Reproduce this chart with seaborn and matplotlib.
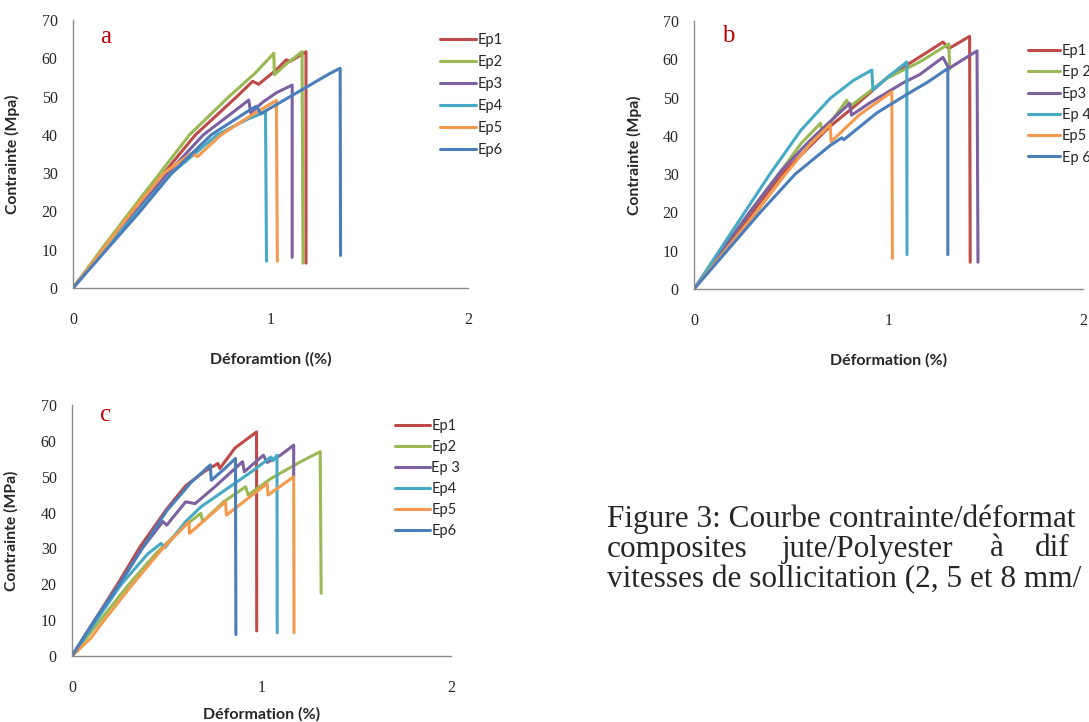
import pandas as pd
import seaborn as sns
import matplotlib
matplotlib.use("Agg")
from matplotlib import pyplot as plt

# ---- panel a (2 mm/min) ----
a_ep1_x = [0, 0.15, 0.30, 0.46, 0.62, 0.83, 0.91, 0.94, 1.03, 1.08, 1.10, 1.18, 1.18]
a_ep1_y = [0, 10, 20, 30, 40, 50, 54, 53.2, 57, 59.6, 59.2, 61.7, 6.5]
a_ep2_x = [0, 0.15, 0.29, 0.44, 0.59, 0.79, 0.92, 1.017, 1.02, 1.08, 1.16, 1.165]
a_ep2_y = [0, 10.5, 20, 30, 40, 50, 56, 61.3, 55.7, 58.5, 61.7, 6.5]
a_ep3_x = [0, 0.16, 0.32, 0.48, 0.66, 0.80, 0.89, 0.90, 0.96, 1.03, 1.11, 1.11]
a_ep3_y = [0, 10, 20, 30, 40, 45.5, 49.1, 45.7, 48.5, 51, 53, 8]
a_ep4_x = [0, 0.16, 0.33, 0.50, 0.73, 0.88, 0.975, 0.98]
a_ep4_y = [0, 10, 20, 30, 40, 44, 46, 7]
a_ep5_x = [0, 0.15, 0.30, 0.46, 0.60, 0.63, 0.75, 0.90, 1.03, 1.035]
a_ep5_y = [0, 10, 20, 30, 35.2, 34.3, 40, 45, 49, 7]
a_ep6_x = [0, 0.17, 0.34, 0.50, 0.70, 0.88, 0.93, 0.95, 1.05, 1.20, 1.30, 1.353, 1.355]
a_ep6_y = [0, 10, 20, 30, 40, 46, 47.5, 45.5, 48.5, 53, 56, 57.4, 8.5]
a_labels = ["Ep1", "Ep2", "Ep3", "Ep4", "Ep5", "Ep6"]

# ---- panel b (5 mm/min) ----
b_ep1_x = [0, 0.15, 0.30, 0.45, 0.62, 0.70, 0.82, 1.00, 1.16, 1.28, 1.31, 1.417, 1.42]
b_ep1_y = [0, 10, 20, 30, 38.5, 42.5, 47.5, 55.5, 60.6, 64.5, 62.8, 66, 7]
b_ep2_x = [0, 0.15, 0.30, 0.45, 0.55, 0.65, 0.66, 0.785, 0.80, 0.99, 1.16, 1.31, 1.315]
b_ep2_y = [0, 10.5, 21, 31, 38, 43.3, 40.7, 49.3, 47.6, 55, 59.3, 64, 57.5]
b_ep3_x = [0, 0.15, 0.30, 0.45, 0.60, 0.80, 0.81, 0.90, 1.08, 1.16, 1.28, 1.31, 1.455, 1.46]
b_ep3_y = [0, 10.5, 21, 31, 39, 48.5, 45.4, 48.5, 54, 56, 60.5, 57.6, 62.2, 7]
b_ep4_x = [0, 0.13, 0.26, 0.39, 0.55, 0.70, 0.82, 0.914, 0.92, 1.00, 1.094, 1.095]
b_ep4_y = [0, 10, 20, 30, 41.5, 49.8, 54.5, 57.2, 52, 55.5, 59.3, 9]
b_ep5_x = [0, 0.16, 0.32, 0.47, 0.60, 0.70, 0.705, 0.85, 1.017, 1.02]
b_ep5_y = [0, 10, 20, 30, 38, 43, 38.5, 45.5, 51.5, 8]
b_ep6_x = [0, 0.17, 0.34, 0.52, 0.70, 0.76, 0.77, 0.94, 1.09, 1.20, 1.305, 1.305]
b_ep6_y = [0, 10, 20, 30, 37.5, 39.5, 39, 46, 50.7, 54, 57.6, 9]
b_labels = ["Ep1", "Ep 2", "Ep3", "Ep 4", "Ep5", "Ep 6"]

# ---- panel c (8 mm/min) ----
c_ep1_x = [0, 0.12, 0.24, 0.36, 0.50, 0.60, 0.70, 0.77, 0.78, 0.86, 0.974, 0.975]
c_ep1_y = [0, 10, 20, 30.5, 41, 47.5, 51.5, 53.7, 52.3, 58, 62.5, 7]
c_ep2_x = [0, 0.15, 0.30, 0.45, 0.60, 0.68, 0.69, 0.80, 0.916, 0.93, 1.05, 1.20, 1.31, 1.315]
c_ep2_y = [0, 10, 20, 29, 36.5, 39.8, 37.5, 43, 47.2, 44.9, 49.5, 54, 57, 17.5]
c_ep3_x = [0, 0.12, 0.25, 0.37, 0.48, 0.50, 0.60, 0.65, 0.75, 0.90, 0.91, 1.01, 1.03, 1.10, 1.17, 1.17]
c_ep3_y = [0, 10, 20, 30, 37.5, 36.5, 43, 42.5, 47, 54.2, 51.4, 56, 54, 56, 58.8, 50]
c_ep4_x = [0, 0.13, 0.26, 0.40, 0.47, 0.49, 0.60, 0.68, 0.80, 0.95, 1.05, 1.06, 1.082, 1.083]
c_ep4_y = [0, 10, 20, 28.5, 31.4, 30.2, 37.5, 41.6, 46, 51.5, 55.5, 54.5, 56, 6.5]
c_ep5_x = [0, 0.10, 0.17, 0.32, 0.47, 0.618, 0.62, 0.81, 0.815, 1.03, 1.035, 1.17, 1.172]
c_ep5_y = [0, 5, 10, 20, 29.5, 37.5, 34.2, 43, 39.3, 48.1, 44.9, 50, 6.5]
c_ep6_x = [0, 0.12, 0.25, 0.37, 0.50, 0.63, 0.73, 0.735, 0.80, 0.863, 0.865]
c_ep6_y = [0, 10, 20, 30, 40.5, 48.5, 53.3, 49, 52, 55.1, 6]
c_labels = ["Ep1", "Ep2", "Ep 3", "Ep4", "Ep5", "Ep6"]

couleurs = ["#BE4B48", "#98B954", "#7D60A0", "#46AAC5", "#F39A4E", "#4A7EBB"]

caption = ["Figure 3: Courbe contrainte/déformat",
           "vitesses de sollicitation (2, 5 et 8 mm/"]
caption_mid = ["composites", "jute/Polyester", "à", "dif"]


def frame(xs, ys, labels):
    parts = []
    for x, y, lab in zip(xs, ys, labels):
        parts.append(pd.DataFrame({"strain": x, "stress": y, "Ep": lab}))
    return pd.concat(parts, ignore_index=True)


df_a = frame([a_ep1_x, a_ep2_x, a_ep3_x, a_ep4_x, a_ep5_x, a_ep6_x],
             [a_ep1_y, a_ep2_y, a_ep3_y, a_ep4_y, a_ep5_y, a_ep6_y], a_labels)
df_b = frame([b_ep1_x, b_ep2_x, b_ep3_x, b_ep4_x, b_ep5_x, b_ep6_x],
             [b_ep1_y, b_ep2_y, b_ep3_y, b_ep4_y, b_ep5_y, b_ep6_y], b_labels)
df_c = frame([c_ep1_x, c_ep2_x, c_ep3_x, c_ep4_x, c_ep5_x, c_ep6_x],
             [c_ep1_y, c_ep2_y, c_ep3_y, c_ep4_y, c_ep5_y, c_ep6_y], c_labels)

sns.set_theme(style="white")
plt.rcParams['font.family'] = ['Lato', 'DejaVu Sans']

fig = plt.figure(figsize=(10.89, 7.22), dpi=100)
ax_a = fig.add_axes([0.067, 0.6011, 0.3627, 0.3712])
ax_b = fig.add_axes([0.6373, 0.5997, 0.3572, 0.3712])
ax_c = fig.add_axes([0.0661, 0.0914, 0.348, 0.3476])

panels = [
    (ax_a, df_a, a_labels, "a", "Déforamtion ((%)", "Contrainte (Mpa)",
     (0.929, 0.951), 0.55, 2.5, (0.068, 0.937), -0.239, -0.134),
    (ax_b, df_b, b_labels, "b", "Déformation (%)", "Contrainte (Mpa)",
     (0.859, 0.914), 0.5, 2.2, (0.072, 0.944), -0.24, -0.134),
    (ax_c, df_c, c_labels, "c", "Déformation (%)", "Contrainte (MPa)",
     (0.852, 0.944), 0.48, 2.4, (0.074, 0.96), -0.203, -0.142),
]

for ax, df, labs, lettre, xlab, ylab, leg_pos, lsp, hl, let_pos, xl_y, yl_x in panels:
    sns.lineplot(data=df, x="strain", y="stress", hue="Ep", hue_order=labs,
                 palette=couleurs, sort=False, estimator=None,
                 linewidth=2.2, ax=ax)
    ax.set_xlim(0, 2)
    ax.set_ylim(0, 70)
    ax.set_xticks([0, 1, 2])
    ax.set_yticks(range(0, 71, 10))
    for s in ["top", "right"]:
        ax.spines[s].set_visible(False)
    for s in ["left", "bottom"]:
        ax.spines[s].set_color("#8C8C8C")
        ax.spines[s].set_linewidth(1.0)
    ax.tick_params(axis="both", direction="out", length=5, width=1,
                   color="#8C8C8C", labelsize=11.5)
    ax.tick_params(axis="x", pad=12)
    ax.tick_params(axis="y", pad=6)
    for t in ax.get_xticklabels() + ax.get_yticklabels():
        t.set_fontfamily("Liberation Serif")
    ax.set_xlabel(xlab, fontsize=11.5, fontweight="bold")
    ax.set_ylabel(ylab, fontsize=11.3, fontweight="bold")
    ax.xaxis.set_label_coords(0.5, xl_y)
    ax.yaxis.set_label_coords(yl_x, 0.5)
    ax.text(let_pos[0], let_pos[1], lettre, transform=ax.transAxes,
            color="#C00000", fontsize=18, fontfamily="Liberation Serif",
            ha="left", va="center")
    sns.move_legend(ax, loc="upper left", bbox_to_anchor=leg_pos,
                    frameon=False, title=None, fontsize=10.5,
                    handlelength=hl, handletextpad=0.1,
                    labelspacing=lsp, borderaxespad=0, borderpad=0)

# caption (justified text block, cut at the right edge like the source)
cap_kw = dict(fontsize=22.5, fontfamily="Liberation Serif", va="center", ha="left")
fig.text(607 / 1089, 1 - 519 / 722, caption[0], **cap_kw)
for mot, px in zip(caption_mid, [607, 782, 990, 1035]):
    fig.text(px / 1089, 1 - 549 / 722, mot, **cap_kw)
fig.text(607 / 1089, 1 - 580 / 722, caption[1], **cap_kw)

fig.savefig("out.png", dpi=100)
